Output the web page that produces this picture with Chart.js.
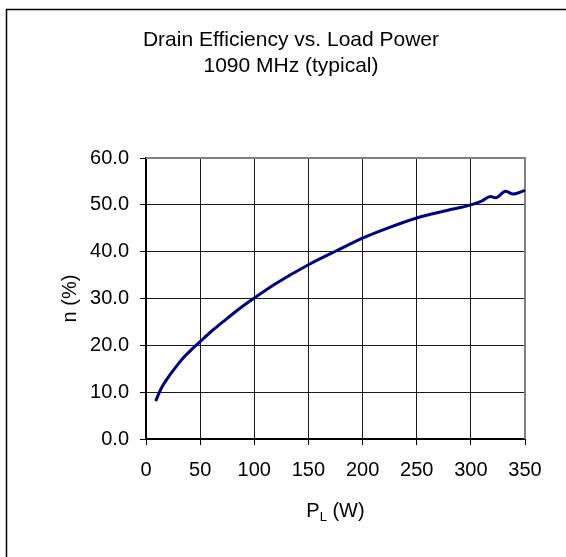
<!DOCTYPE html>
<html>
<head>
<meta charset="utf-8">
<script src="https://cdn.jsdelivr.net/npm/chart.js@4/dist/chart.umd.min.js"></script>
<style>
  html, body { margin: 0; padding: 0; background: #fff; overflow: hidden; }
  #wrap { position: relative; width: 566px; height: 557px; }
</style>
</head>
<body>
<div id="wrap"><canvas id="c" width="566" height="557"></canvas></div>
<script>
// ---- data ----
const loadPower = [9, 12, 15, 20, 25, 30, 36, 42, 50, 60, 71, 85, 100, 120, 150, 176, 200, 225, 250, 278, 300, 310, 318, 323, 332, 339, 350];
const drainEfficiency = [8.1, 9.8, 11.2, 13.0, 14.6, 16.1, 17.7, 19.1, 20.8, 22.9, 25.0, 27.6, 30.1, 33.2, 37.2, 40.2, 42.9, 45.2, 47.2, 48.8, 50.0, 50.8, 51.8, 51.5, 52.9, 52.3, 53.1];
const titleLines = ['Drain Efficiency vs. Load Power', '1090 MHz (typical)'];
const yAxisTitle = 'n (%)';
const xAxisTitleMain = 'P';
const xAxisTitleSub = 'L';
const xAxisTitleRest = ' (W)';

const FONT = "'Liberation Sans', Arial, sans-serif";

const points = loadPower.map((x, i) => ({ x: x, y: drainEfficiency[i] }));

const decor = {
  id: 'decor',
  beforeDraw(chart) {
    const ctx = chart.ctx;
    ctx.save();
    ctx.fillStyle = '#fff';
    ctx.fillRect(0, 0, chart.width, chart.height);
    ctx.strokeStyle = '#000';
    ctx.lineWidth = 1.5;
    ctx.beginPath();
    ctx.moveTo(6.5, chart.height + 5);
    ctx.lineTo(6.5, 9.5);
    ctx.lineTo(chart.width + 5, 9.5);
    ctx.stroke();
    ctx.restore();
  },
  beforeDatasetsDraw(chart) {
    const ctx = chart.ctx;
    const a = chart.chartArea;
    ctx.save();
    ctx.strokeStyle = '#808080';
    ctx.lineWidth = 2;
    ctx.beginPath();
    ctx.moveTo(a.left, a.top);
    ctx.lineTo(a.right, a.top);
    ctx.lineTo(a.right, a.bottom);
    ctx.stroke();
    ctx.restore();
  },
  afterDraw(chart) {
    const ctx = chart.ctx;
    const a = chart.chartArea;
    ctx.save();
    ctx.fillStyle = '#000';
    ctx.textBaseline = 'alphabetic';
    const big = "20px " + FONT;
    const small = "13px " + FONT;
    ctx.font = big;
    const w1 = ctx.measureText(xAxisTitleMain).width;
    const w3 = ctx.measureText(xAxisTitleRest).width;
    ctx.font = small;
    const w2 = ctx.measureText(xAxisTitleSub).width;
    const total = w1 + w2 + w3;
    let x = (a.left + a.right) / 2 - total / 2;
    const yb = 517;
    ctx.textAlign = 'left';
    ctx.font = big;
    ctx.fillText(xAxisTitleMain, x, yb);
    x += w1;
    ctx.font = small;
    ctx.fillText(xAxisTitleSub, x, yb + 4);
    x += w2;
    ctx.font = big;
    ctx.fillText(xAxisTitleRest, x, yb);
    ctx.restore();
  }
};

new Chart(document.getElementById('c'), {
  type: 'line',
  data: {
    datasets: [{
      data: points,
      borderColor: '#000080',
      borderWidth: 3,
      pointRadius: 0,
      fill: false,
      cubicInterpolationMode: 'monotone',
      clip: 4
    }]
  },
  options: {
    responsive: false,
    animation: false,
    events: [],
    layout: { padding: { left: 57, top: 0, right: 41, bottom: 0 } },
    plugins: {
      legend: { display: false },
      tooltip: { enabled: false },
      title: {
        display: true,
        text: titleLines,
        color: '#000',
        font: { family: FONT, size: 21, weight: 'normal', lineHeight: 1.2 },
        padding: { top: 28, bottom: 79.6 }
      }
    },
    scales: {
      x: {
        type: 'linear',
        min: 0, max: 350,
        afterFit(scale) { scale.height = 118; },
        ticks: {
          stepSize: 50,
          color: '#000',
          padding: 13,
          maxRotation: 0,
          font: { family: FONT, size: 20 }
        },
        grid: { color: '#1a1a1a', lineWidth: 1, drawTicks: true, tickLength: 6, tickColor: '#000', tickWidth: 1 },
        border: { display: true, color: '#000', width: 2 }
      },
      y: {
        min: 0, max: 60,
        afterFit(scale) { scale.width = 89; },
        ticks: {
          stepSize: 10,
          color: '#000',
          padding: 11,
          font: { family: FONT, size: 20 },
          callback: v => Number(v).toFixed(1)
        },
        grid: { color: '#1a1a1a', lineWidth: 1, drawTicks: true, tickLength: 6, tickColor: '#000', tickWidth: 1 },
        border: { display: true, color: '#000', width: 2 },
        title: {
          display: true,
          text: yAxisTitle,
          color: '#000',
          font: { family: FONT, size: 20, lineHeight: 1.2 },
          padding: { top: 1, bottom: 0 }
        }
      }
    }
  },
  plugins: [decor]
});
</script>
</body>
</html>
